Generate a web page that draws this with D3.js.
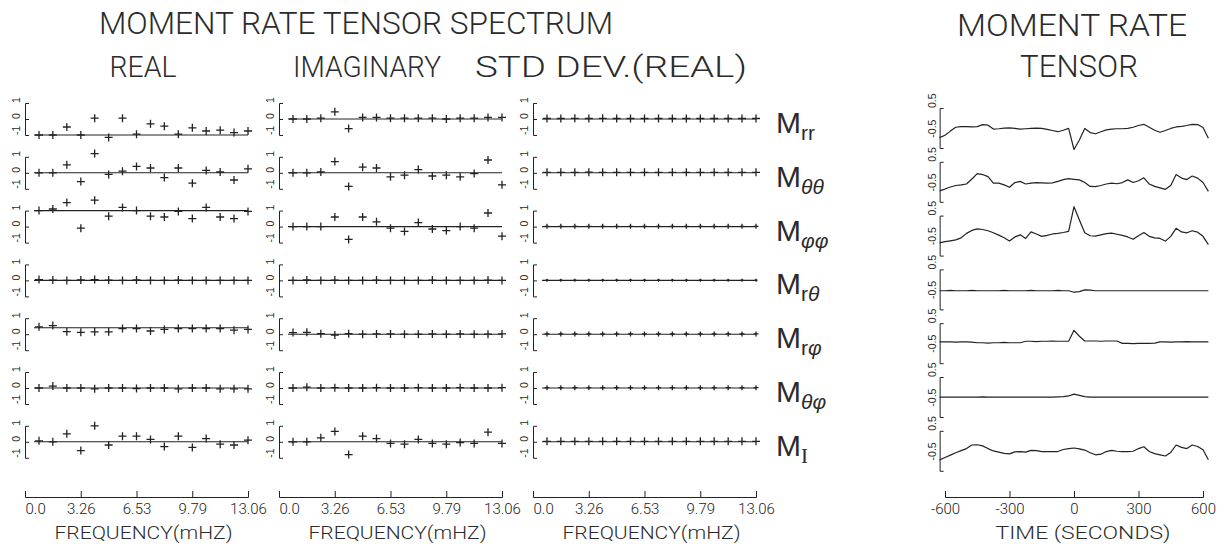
<!DOCTYPE html>
<html>
<head>
  <meta charset="utf-8">
  <script src="https://d3js.org/d3.v7.min.js"></script>
  <style>
    body { margin: 0; background: #fff; }
    svg { display: block; }
    text { font-family: "Liberation Sans", Arial, sans-serif; fill: #2b2b2b; }
    .head { font-family: Roboto, "Liberation Sans", sans-serif; font-weight: 300; }
    .tick text { font-family: Roboto, "Liberation Sans", sans-serif; font-weight: 300; font-size: 15px; fill: #222; }
    .small { font-size: 10.5px; }
  </style>
</head>
<body>
<script>
// ---- data ----
const components = ["rr", "θθ", "φφ", "rθ", "rφ", "θφ", "I"];

// frequencies of the 16 spectral estimates (mHz)
const freqs = [0.82, 1.63, 2.45, 3.27, 4.08, 4.90, 5.71, 6.53, 7.35, 8.16, 8.98, 9.80, 10.61, 11.43, 12.24, 13.06];
const freqTicks = [0, 3.265, 6.53, 9.795, 13.06];
const freqTickLabels = ["0.0", "3.26", "6.53", "9.79", "13.06"];

// level of the reference line drawn in each REAL panel
const realLevels = [-1, 0, 1, 0, 0.4, 0, 0];

const realValues = [
  [-1.0, -1.0, -0.5, -1.0, 0.05, -1.15, 0.05, -0.95, -0.3, -0.45, -0.95, -0.55, -0.75, -0.7, -0.85, -0.75],
  [0, 0, 0.5, -0.55, 1.2, -0.1, 0.1, 0.4, 0.3, -0.3, 0.3, -0.65, 0.15, 0.05, -0.45, 0.25],
  [1.0, 1.1, 1.5, -0.1, 1.65, 0.65, 1.2, 1.0, 0.65, 0.6, 0.95, 0.5, 1.2, 0.6, 0.5, 0.95],
  [0.05, 0.02, 0, 0.03, 0.05, 0.02, 0, 0.03, 0, 0, 0.02, 0, 0, 0, 0, 0],
  [0.46, 0.54, 0.16, 0.12, 0.15, 0.15, 0.35, 0.35, 0.2, 0.3, 0.35, 0.35, 0.35, 0.35, 0.25, 0.3],
  [0, 0.12, 0, 0, -0.05, 0, 0, -0.03, 0, 0, -0.05, 0, 0, -0.05, -0.05, -0.05],
  [0.06, 0, 0.5, -0.55, 1.0, -0.2, 0.35, 0.35, 0.15, -0.3, 0.35, -0.35, 0.2, -0.15, -0.2, 0.1]
];

const imagValues = [
  [0, 0, 0.05, 0.45, -0.6, 0.1, 0.1, 0.05, 0.05, 0.05, 0.05, 0, 0.05, 0.05, 0.1, 0.1],
  [0, 0, 0.05, 0.7, -0.85, 0.35, 0.3, -0.25, -0.15, 0.2, -0.2, -0.15, -0.25, -0.05, 0.8, -0.75],
  [0, 0, 0, 0.6, -0.8, 0.6, 0.3, -0.1, -0.3, 0.25, -0.15, -0.25, 0, -0.1, 0.85, -0.6],
  [0, 0.03, 0, 0.02, 0, 0, 0.02, 0, 0, 0, 0.02, 0, 0, 0, 0.02, 0],
  [0.1, 0.12, 0.03, -0.05, 0.03, 0, 0.02, 0.02, 0, 0, 0.02, 0, 0.02, 0, 0, 0.02],
  [0, 0.05, 0, 0.02, 0, 0, 0.02, 0, 0, 0.02, 0, 0, 0.02, 0, 0, 0.02],
  [0, 0, 0.25, 0.65, -0.8, 0.35, 0.2, -0.1, -0.15, 0.15, -0.1, -0.15, -0.05, -0.1, 0.6, -0.1]
];

const stdValues = [
  [0.03, 0.03, 0.04, 0.03, 0.04, 0.03, 0.03, 0.03, 0.03, 0.03, 0.03, 0.03, 0.03, 0.03, 0.03, 0.03],
  [0.03, 0.03, 0.03, 0.04, 0.03, 0.03, 0.03, 0.03, 0.03, 0.03, 0.03, 0.03, 0.03, 0.03, 0.03, 0.03],
  [0.02, 0.02, 0.02, 0.02, 0.02, 0.02, 0.02, 0.02, 0.02, 0.02, 0.02, 0.02, 0.02, 0.02, 0.02, 0.02],
  [0.01, 0.01, 0.01, 0.01, 0.01, 0.01, 0.01, 0.01, 0.01, 0.01, 0.01, 0.01, 0.01, 0.01, 0.01, 0.01],
  [0.02, 0.02, 0.02, 0.02, 0.02, 0.02, 0.02, 0.02, 0.02, 0.02, 0.02, 0.02, 0.02, 0.02, 0.02, 0.02],
  [0.02, 0.02, 0.02, 0.02, 0.02, 0.02, 0.02, 0.02, 0.02, 0.02, 0.02, 0.02, 0.02, 0.02, 0.02, 0.02],
  [0.03, 0.03, 0.03, 0.03, 0.03, 0.03, 0.03, 0.03, 0.03, 0.03, 0.03, 0.03, 0.03, 0.03, 0.03, 0.03]
];

// time domain moment rate functions (seconds)
const times = [-625, -600, -575, -550, -525, -500, -475, -450, -425, -400, -375, -350, -325, -300, -275, -250, -225,
  -200, -175, -150, -125, -100, -75, -50, -25, 0, 25, 50, 75, 100, 125, 150, 175, 200, 225, 250, 275, 300, 325,
  350, 375, 400, 425, 450, 475, 500, 525, 550, 575, 600, 625];
const timeTicks = [-600, -300, 0, 300, 600];

const rateMrr = [-0.50, -0.42, -0.28, -0.15, -0.13, -0.13, -0.14, -0.13, -0.06, -0.08, -0.21, -0.20, -0.18, -0.17, -0.19, -0.21, -0.20,
  -0.19, -0.18, -0.19, -0.22, -0.26, -0.30, -0.25, -0.19, -0.90, -0.58, -0.19, -0.33, -0.37, -0.30, -0.24, -0.21, -0.20, -0.20,
  -0.19, -0.15, -0.09, -0.05, -0.15, -0.25, -0.32, -0.26, -0.19, -0.14, -0.12, -0.09, -0.05, -0.06, -0.16, -0.52];
const rateMtt = [-0.48, -0.42, -0.35, -0.30, -0.28, -0.25, -0.08, 0.10, 0.07, 0.00, -0.22, -0.22, -0.28, -0.36, -0.20, -0.16, -0.25,
  -0.22, -0.20, -0.21, -0.22, -0.21, -0.16, -0.10, -0.07, -0.09, -0.11, -0.20, -0.33, -0.34, -0.30, -0.25, -0.22, -0.24, -0.20,
  -0.11, -0.20, -0.14, -0.04, -0.25, -0.33, -0.38, -0.43, -0.30, 0.07, -0.05, -0.10, 0.02, -0.05, -0.20, -0.50];
const rateMpp = [-0.42, -0.38, -0.35, -0.32, -0.25, -0.10, 0.00, 0.05, 0.03, -0.01, -0.08, -0.16, -0.25, -0.36, -0.22, -0.15, -0.27,
  -0.05, -0.12, -0.20, -0.17, -0.12, -0.10, -0.07, -0.03, 0.80, 0.35, -0.08, -0.18, -0.19, -0.15, -0.11, -0.09, -0.13, -0.17,
  -0.22, -0.30, -0.18, -0.07, -0.20, -0.25, -0.27, -0.36, -0.20, 0.07, -0.05, -0.08, -0.01, -0.06, -0.20, -0.48];
const rateMrt = [-0.22, -0.22, -0.21, -0.22, -0.22, -0.22, -0.21, -0.22, -0.22, -0.22, -0.22, -0.22, -0.21, -0.22, -0.22, -0.22, -0.22,
  -0.21, -0.22, -0.22, -0.22, -0.22, -0.21, -0.22, -0.22, -0.27, -0.25, -0.19, -0.20, -0.22, -0.22, -0.22, -0.22, -0.22, -0.22,
  -0.22, -0.22, -0.22, -0.22, -0.22, -0.22, -0.22, -0.22, -0.22, -0.22, -0.22, -0.22, -0.22, -0.22, -0.22, -0.22];
const rateMrp = [-0.13, -0.13, -0.13, -0.14, -0.13, -0.13, -0.14, -0.16, -0.16, -0.17, -0.16, -0.16, -0.15, -0.16, -0.16, -0.16, -0.11,
  -0.11, -0.12, -0.11, -0.11, -0.10, -0.11, -0.11, -0.11, 0.26, 0.06, -0.10, -0.10, -0.10, -0.11, -0.10, -0.10, -0.10, -0.18,
  -0.18, -0.19, -0.18, -0.18, -0.18, -0.17, -0.13, -0.13, -0.14, -0.13, -0.13, -0.12, -0.13, -0.13, -0.13, -0.13];
const rateMtp = [-0.18, -0.18, -0.18, -0.18, -0.18, -0.18, -0.18, -0.18, -0.17, -0.18, -0.18, -0.18, -0.18, -0.18, -0.18, -0.18, -0.18,
  -0.18, -0.18, -0.18, -0.18, -0.18, -0.17, -0.16, -0.14, -0.08, -0.12, -0.16, -0.18, -0.18, -0.18, -0.18, -0.18, -0.18, -0.18,
  -0.18, -0.18, -0.18, -0.18, -0.18, -0.18, -0.18, -0.18, -0.18, -0.18, -0.18, -0.18, -0.18, -0.18, -0.18, -0.18];
const rateMI = [-0.48, -0.40, -0.32, -0.24, -0.17, -0.10, 0.02, 0.03, -0.01, -0.10, -0.18, -0.22, -0.26, -0.28, -0.21, -0.20, -0.22,
  -0.16, -0.17, -0.20, -0.20, -0.20, -0.20, -0.13, -0.10, -0.08, -0.11, -0.15, -0.24, -0.31, -0.29, -0.20, -0.16, -0.19, -0.20,
  -0.20, -0.19, -0.10, -0.04, -0.20, -0.27, -0.31, -0.35, -0.23, 0.02, -0.06, -0.10, 0.02, -0.03, -0.14, -0.48];
const rates = [rateMrr, rateMtt, rateMpp, rateMrt, rateMrp, rateMtp, rateMI];

// ---- layout ----
const W = 1228, H = 544;
const ink = "#222";
const colX = [25, 279, 533], colW = 223;
const rowTop = 119, rowStep = 53.8;
const axisY = 497;
const zeroY = r => rowTop + r * rowStep;

const svg = d3.select("body").append("svg").attr("width", W).attr("height", H);

function heading(txt, x, y, size, len) {
  svg.append("text").attr("class", "head")
    .attr("x", x).attr("y", y)
    .attr("text-anchor", "middle")
    .attr("font-size", size)
    .attr("textLength", len).attr("lengthAdjust", "spacingAndGlyphs")
    .text(txt);
}

heading("MOMENT RATE TENSOR SPECTRUM", 356, 34, 32, 514);
heading("REAL", 143, 77, 29, 67);
heading("IMAGINARY", 367, 77, 29, 148);
heading("STD DEV.(REAL)", 611, 77, 29, 272);
heading("MOMENT RATE", 1072, 36, 32, 230);
heading("TENSOR", 1079, 77, 32, 118);

const xF = colX.map(x0 => d3.scaleLinear().domain([0, 13.06]).range([x0, x0 + colW]));
const xR = d3.scaleLinear().domain([-600, 600]).range([945, 1203]);

const cross = (x, y, s) => `M${x - s},${y}H${x + s}M${x},${y - s}V${y + s}`;

// rotated tick labels, reading upward from the tick
function sideLabels(x, yScale, vals, fmt) {
  vals.forEach(v => {
    svg.append("text").attr("class", "small")
      .attr("transform", `translate(${x},${yScale(v)}) rotate(-90)`)
      .attr("text-anchor", "start")
      .text(fmt(v));
  });
}

const columns = [
  { values: realValues, level: r => realLevels[r], mark: r => 4 },
  { values: imagValues, level: r => 0, mark: r => 4 },
  { values: stdValues, level: r => 0, mark: r => [4, 4, 2.5, 1.5, 2.5, 2.5, 4][r] }
];

columns.forEach((col, c) => {
  const x = xF[c];
  const x0 = colX[c];
  col.values.forEach((vals, r) => {
    const z = zeroY(r);
    const y = d3.scaleLinear().domain([-1, 1]).range([z + 16, z - 16]);

    const br = svg.append("g")
      .attr("transform", `translate(${x0},0)`)
      .call(d3.axisRight(y).tickValues([0]).tickSizeInner(4).tickSizeOuter(4).tickFormat(""));
    br.attr("color", ink);

    sideLabels(x0 - 5, y, [1, 0, -1], d => d3.format("d")(d).replace("−", "-"));

    svg.append("line")
      .attr("x1", x(freqs[0]) - 5).attr("x2", x(freqs[freqs.length - 1]))
      .attr("y1", y(col.level(r))).attr("y2", y(col.level(r)))
      .attr("stroke", ink).attr("stroke-width", 1.1);

    svg.append("path")
      .attr("d", vals.map((v, i) => cross(x(freqs[i]), y(v), col.mark(r))).join(""))
      .attr("fill", "none").attr("stroke", ink).attr("stroke-width", 1.3);
  });

  const ax = svg.append("g")
    .attr("transform", `translate(0,${axisY})`)
    .call(d3.axisBottom(x).tickValues(freqTicks)
      .tickFormat((d, i) => freqTickLabels[i])
      .tickSizeInner(-6).tickSizeOuter(-6).tickPadding(6));
  ax.attr("color", ink).attr("font-family", null).attr("font-size", null);
  ax.selectAll(".tick text").filter((d, i) => i === 0).attr("text-anchor", "start");

  svg.append("text").attr("class", "head")
    .attr("x", x0 + colW / 2 + 7).attr("y", 539)
    .attr("text-anchor", "middle").attr("font-size", 19)
    .attr("textLength", 178).attr("lengthAdjust", "spacingAndGlyphs")
    .text("FREQUENCY(mHZ)");
});

// component names
components.forEach((name, r) => {
  const t = svg.append("text")
    .attr("x", 776).attr("y", zeroY(r) + 14)
    .attr("font-size", 30);
  t.append("tspan").text("M");
  const sub = t.append("tspan").attr("dy", 7).attr("font-size", 21);
  name.split("").forEach(ch => {
    const s = sub.append("tspan").text(ch);
    if (/[θφ]/.test(ch)) s.attr("font-style", "italic");
    if (ch === "I") s.style("font-family", "'Liberation Serif', serif");
  });
});

// time domain panel
const line = d3.line().x((d, i) => xR(times[i])).y(d => d);
rates.forEach((vals, r) => {
  const z = zeroY(r);
  const y = d3.scaleLinear().domain([-0.85, 0.5]).range([z + 29, z - 11]);
  const bx = xR(times[0]);

  const br = svg.append("g")
    .attr("transform", `translate(${bx},0)`)
    .call(d3.axisRight(y).tickValues([]).tickSizeOuter(4));
  br.attr("color", ink);

  sideLabels(bx - 4, y, [0.5, -0.5], d => d3.format(".1f")(d).replace("−", "-"));

  svg.append("path")
    .attr("d", line(vals.map(v => y(v))))
    .attr("fill", "none").attr("stroke", ink).attr("stroke-width", 1.2)
    .attr("stroke-linejoin", "round");
});

const axT = svg.append("g")
  .attr("transform", `translate(0,${axisY})`)
  .call(d3.axisBottom(xR).tickValues(timeTicks).tickFormat(d3.format("d"))
    .tickSizeInner(-6).tickSizeOuter(-6).tickPadding(6));
axT.attr("color", ink).attr("font-family", null).attr("font-size", null);
axT.selectAll(".tick text").text(d => String(d));

svg.append("text").attr("class", "head")
  .attr("x", 1083).attr("y", 539)
  .attr("text-anchor", "middle").attr("font-size", 19)
  .attr("textLength", 175).attr("lengthAdjust", "spacingAndGlyphs")
  .text("TIME (SECONDS)");
</script>
</body>
</html>
